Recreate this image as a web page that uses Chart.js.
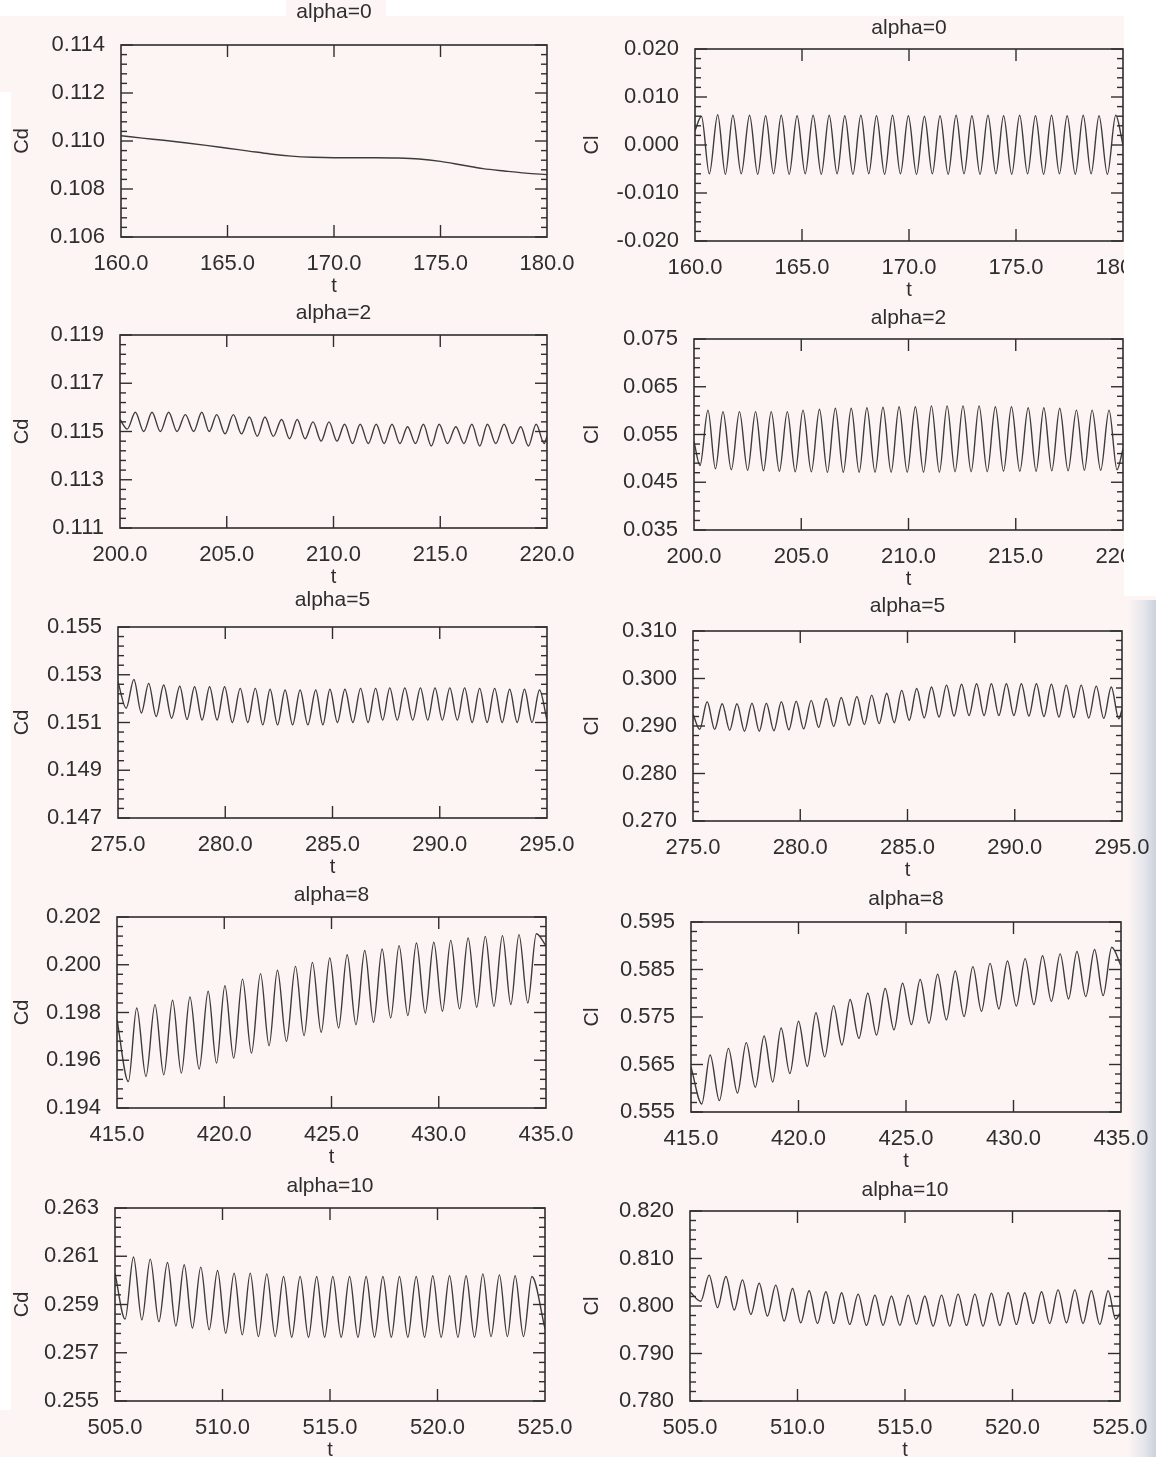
<!DOCTYPE html>
<html><head><meta charset="utf-8">
<script src="https://cdn.jsdelivr.net/npm/chart.js@4.4.1/dist/chart.umd.min.js"></script>
<style>
html,body{margin:0;padding:0;background:#fdf5f3;}
body{width:1156px;height:1457px;position:relative;overflow:hidden;}
canvas{position:absolute;z-index:2;}
.w{position:absolute;background:#ffffff;z-index:1;}
.top{z-index:3;}
</style></head><body>
<div class="w" style="left:0;top:0;width:286px;height:16px"></div>
<div class="w" style="left:386px;top:0;width:770px;height:16px"></div>
<div class="w" style="left:0;top:92px;width:11px;height:1318px"></div>
<div class="w top" style="left:1124px;top:0;width:32px;height:596px"></div>
<div class="w" style="left:1128px;top:600px;width:28px;height:857px;background:linear-gradient(to right,#fdf5f3,#e3e5ec 60%,#ccd1da)"></div>
<script>
// ---------- tick values ----------
const xTicks0 = [160, 165, 170, 175, 180];
const xTicks2 = [200, 205, 210, 215, 220];
const xTicks5 = [275, 280, 285, 290, 295];
const xTicks8 = [415, 420, 425, 430, 435];
const xTicks10 = [505, 510, 515, 520, 525];
const yTicksA0Cd = [0.106, 0.108, 0.110, 0.112, 0.114];
const yTicksA0Cl = [-0.020, -0.010, 0.000, 0.010, 0.020];
const yTicksA2Cd = [0.111, 0.113, 0.115, 0.117, 0.119];
const yTicksA2Cl = [0.035, 0.045, 0.055, 0.065, 0.075];
const yTicksA5Cd = [0.147, 0.149, 0.151, 0.153, 0.155];
const yTicksA5Cl = [0.270, 0.280, 0.290, 0.300, 0.310];
const yTicksA8Cd = [0.194, 0.196, 0.198, 0.200, 0.202];
const yTicksA8Cl = [0.555, 0.565, 0.575, 0.585, 0.595];
const yTicksA10Cd = [0.255, 0.257, 0.259, 0.261, 0.263];
const yTicksA10Cl = [0.780, 0.790, 0.800, 0.810, 0.820];

// ---------- alpha=0, Cd ----------
const a0CdT = [160,161,162,163,164,165,166,167,168,169,170,171,172,173,174,175,176,177,178,179,180];
const a0CdV = [0.11022,0.11012,0.11003,0.10993,0.10982,0.10970,0.10958,0.10946,0.10937,0.10932,0.10930,0.10930,0.10930,0.10929,0.10925,0.10915,0.10900,0.10885,0.10875,0.10866,0.10860];

// ---------- alpha=0, Cl ----------
const a0ClEdgeT = [160.0, 180.0];
const a0ClEdgeV = [0.0030, 0.0000];
const a0ClHiT = [160.30,161.06,161.77,162.55,163.30,164.03,164.77,165.52,166.27,167.00,167.75,168.48,169.23,169.97,170.72,171.45,172.20,172.94,173.69,174.42,175.17,175.91,176.66,177.39,178.14,178.88,179.66];
const a0ClHiV = [0.0060,0.0063,0.0062,0.0062,0.0061,0.0062,0.0061,0.0062,0.0062,0.0061,0.0062,0.0061,0.0062,0.0061,0.0060,0.0061,0.0062,0.0061,0.0062,0.0061,0.0062,0.0061,0.0062,0.0061,0.0062,0.0061,0.0062];
const a0ClLoT = [160.67,161.42,162.16,162.93,163.67,164.40,165.15,165.90,166.64,167.38,168.12,168.86,169.60,170.35,171.09,171.83,172.57,173.32,174.06,174.80,175.54,176.29,177.03,177.77,178.51,179.27];
const a0ClLoV = [-0.0060,-0.0061,-0.0060,-0.0061,-0.0060,-0.0061,-0.0060,-0.0061,-0.0060,-0.0061,-0.0060,-0.0061,-0.0060,-0.0061,-0.0060,-0.0061,-0.0060,-0.0061,-0.0060,-0.0061,-0.0060,-0.0061,-0.0060,-0.0061,-0.0060,-0.0061];

// ---------- alpha=2, Cd ----------
const a2CdEdgeT = [200.0, 220.0];
const a2CdEdgeV = [0.1155, 0.1148];
const a2CdHiT = [200.72,201.50,202.28,203.06,203.83,204.53,205.31,206.06,206.79,207.57,208.30,209.04,209.79,210.52,211.25,212.00,212.74,213.47,214.21,214.95,215.73,216.48,217.21,217.99,218.77,219.49];
const a2CdHiV = [0.1158,0.1158,0.1158,0.1157,0.1158,0.1157,0.1157,0.1156,0.1156,0.1155,0.1155,0.1154,0.1154,0.1153,0.1153,0.1153,0.1153,0.1152,0.1153,0.1153,0.1152,0.1153,0.1153,0.1153,0.1152,0.1153];
const a2CdLoT = [200.34,201.11,201.89,202.67,203.45,204.18,204.92,205.69,206.43,207.18,207.94,208.67,209.42,210.16,210.89,211.63,212.37,213.11,213.84,214.58,215.34,216.11,216.85,217.60,218.38,219.13,219.87];
const a2CdLoV = [0.1151,0.1150,0.1150,0.1150,0.1150,0.1150,0.1149,0.1149,0.1148,0.1148,0.1147,0.1147,0.1146,0.1146,0.1145,0.1145,0.1145,0.1145,0.1145,0.1144,0.1145,0.1145,0.1144,0.1145,0.1145,0.1144,0.1145];

// ---------- alpha=2, Cl ----------
const a2ClEdgeT = [200.0, 220.0];
const a2ClEdgeV = [0.0535, 0.0520];
const a2ClHiT = [200.65,201.35,202.12,202.87,203.60,204.35,205.08,205.85,206.59,207.33,208.06,208.81,209.56,210.32,211.07,211.80,212.54,213.29,214.05,214.80,215.58,216.31,217.05,217.83,218.56,219.35];
const a2ClHiV = [0.0601,0.0598,0.0598,0.0598,0.0598,0.0598,0.0601,0.0603,0.0605,0.0605,0.0606,0.0607,0.0608,0.0608,0.0610,0.0610,0.0610,0.0610,0.0608,0.0608,0.0606,0.0606,0.0605,0.0601,0.0601,0.0601];
const a2ClLoT = [200.28,201.00,201.74,202.50,203.24,203.98,204.72,205.47,206.22,206.96,207.70,208.44,209.19,209.94,210.70,211.44,212.17,212.92,213.67,214.43,215.19,215.95,216.68,217.44,218.20,218.96,219.72];
const a2ClLoV = [0.0485,0.0478,0.0476,0.0475,0.0474,0.0473,0.0472,0.0472,0.0471,0.0471,0.0471,0.0471,0.0471,0.0471,0.0471,0.0471,0.0472,0.0472,0.0472,0.0473,0.0473,0.0473,0.0474,0.0474,0.0475,0.0475,0.0476];

// ---------- alpha=5, Cd ----------
const a5CdEdgeT = [275.0, 295.0];
const a5CdEdgeV = [0.1527, 0.1511];
const a5CdHiT = [275.74,276.43,277.13,277.88,278.57,279.27,279.97,280.70,281.40,282.09,282.79,283.49,284.22,284.88,285.58,286.31,287.01,287.67,288.37,289.10,289.78,290.47,291.16,291.86,292.56,293.26,293.95,294.65];
const a5CdHiV = [0.15280,0.15264,0.15257,0.15252,0.15250,0.15250,0.15250,0.15243,0.15243,0.15239,0.15236,0.15236,0.15236,0.15239,0.15239,0.15243,0.15243,0.15245,0.15245,0.15245,0.15245,0.15245,0.15245,0.15243,0.15243,0.15239,0.15239,0.15236];
const a5CdLoT = [275.38,276.09,276.78,277.50,278.22,278.92,279.62,280.33,281.05,281.75,282.44,283.14,283.85,284.55,285.23,285.95,286.66,287.34,288.02,288.74,289.44,290.12,290.82,291.51,292.21,292.91,293.61,294.30];
const a5CdLoV = [0.15160,0.15140,0.15125,0.15118,0.15113,0.15110,0.15110,0.15100,0.15100,0.15090,0.15090,0.15090,0.15090,0.15090,0.15100,0.15100,0.15100,0.15110,0.15110,0.15110,0.15110,0.15110,0.15110,0.15100,0.15100,0.15100,0.15100,0.15100];

// ---------- alpha=5, Cl ----------
const a5ClEdgeT = [275.0, 295.0];
const a5ClEdgeV = [0.2925, 0.2935];
const a5ClHiT = [275.66,276.36,277.05,277.75,278.42,279.12,279.81,280.51,281.21,281.91,282.64,283.33,284.03,284.73,285.43,286.12,286.82,287.52,288.22,288.91,289.61,290.31,291.01,291.71,292.40,293.10,293.80,294.50];
const a5ClHiV = [0.2951,0.2947,0.2947,0.2948,0.2948,0.2951,0.2952,0.2954,0.2958,0.2960,0.2962,0.2965,0.2969,0.2975,0.2979,0.2982,0.2986,0.2988,0.2989,0.2989,0.2989,0.2989,0.2989,0.2988,0.2986,0.2986,0.2984,0.2982];
const a5ClLoT = [275.31,276.01,276.71,277.40,278.09,278.77,279.47,280.16,280.86,281.56,282.28,282.99,283.68,284.38,285.08,285.78,286.47,287.17,287.87,288.57,289.26,289.96,290.66,291.36,292.06,292.75,293.45,294.15,294.85];
const a5ClLoV = [0.2893,0.2893,0.2891,0.2889,0.2889,0.2890,0.2892,0.2894,0.2897,0.2899,0.2901,0.2903,0.2905,0.2907,0.2912,0.2917,0.2919,0.2921,0.2922,0.2922,0.2922,0.2922,0.2921,0.2920,0.2919,0.2918,0.2917,0.2916,0.2915];

// ---------- alpha=8, Cd ----------
const a8CdEdgeT = [415.0, 435.0];
const a8CdEdgeV = [0.1977, 0.2008];
const a8CdHiT = [415.92,416.77,417.59,418.40,419.25,420.03,420.85,421.69,422.48,423.32,424.11,424.92,425.73,426.55,427.36,428.15,428.96,429.77,430.56,431.37,432.17,432.97,433.74,434.55];
const a8CdHiV = [0.19819,0.19833,0.19851,0.19865,0.19889,0.19912,0.19940,0.19963,0.19977,0.19993,0.20010,0.20028,0.20042,0.20060,0.20066,0.20080,0.20091,0.20094,0.20102,0.20112,0.20119,0.20122,0.20126,0.20130];
const a8CdLoT = [415.53,416.35,417.18,418.00,418.83,419.64,420.44,421.27,422.09,422.90,423.72,424.52,425.33,426.14,426.96,427.76,428.56,429.37,430.17,430.97,431.77,432.57,433.36,434.15];
const a8CdLoV = [0.19511,0.19532,0.19539,0.19546,0.19563,0.19588,0.19609,0.19630,0.19661,0.19679,0.19703,0.19717,0.19735,0.19749,0.19759,0.19777,0.19787,0.19798,0.19805,0.19815,0.19822,0.19826,0.19833,0.19840];

// ---------- alpha=8, Cl ----------
const a8ClEdgeT = [415.0, 435.0];
const a8ClEdgeV = [0.5645, 0.5858];
const a8ClHiT = [415.89,416.74,417.57,418.40,419.19,420.00,420.81,421.63,422.40,423.22,424.03,424.84,425.66,426.47,427.29,428.11,428.91,429.72,430.54,431.35,432.17,432.95,433.77,434.57];
const a8ClHiV = [0.5670,0.5684,0.5696,0.5710,0.5727,0.5741,0.5759,0.5774,0.5787,0.5800,0.5810,0.5821,0.5829,0.5840,0.5847,0.5856,0.5863,0.5868,0.5873,0.5879,0.5883,0.5888,0.5892,0.5897];
const a8ClLoT = [415.50,416.32,417.16,417.99,418.80,419.60,420.41,421.22,422.02,422.81,423.63,424.44,425.25,426.07,426.88,427.70,428.51,429.32,430.13,430.95,431.76,432.56,433.36,434.17];
const a8ClLoV = [0.5567,0.5574,0.5590,0.5602,0.5613,0.5631,0.5646,0.5666,0.5691,0.5705,0.5712,0.5723,0.5734,0.5737,0.5744,0.5751,0.5762,0.5767,0.5773,0.5776,0.5783,0.5788,0.5793,0.5795];

// ---------- alpha=10, Cd ----------
const a10CdEdgeT = [505.0, 525.0];
const a10CdEdgeV = [0.2603, 0.2580];
const a10CdHiT = [505.86,506.64,507.44,508.22,508.99,509.77,510.54,511.29,512.06,512.84,513.61,514.38,515.13,515.91,516.68,517.46,518.23,519.01,519.78,520.56,521.33,522.11,522.88,523.61,524.39];
const a10CdHiV = [0.26097,0.26088,0.26074,0.26065,0.26055,0.26041,0.26030,0.26030,0.26027,0.26016,0.26016,0.26016,0.26016,0.26016,0.26016,0.26016,0.26016,0.26016,0.26019,0.26019,0.26019,0.26027,0.26023,0.26019,0.26016];
const a10CdLoT = [505.47,506.25,507.04,507.83,508.60,509.38,510.15,510.92,511.67,512.45,513.22,514.00,514.75,515.52,516.30,517.07,517.85,518.62,519.40,520.17,520.95,521.72,522.49,523.25,524.00];
const a10CdLoV = [0.25840,0.25836,0.25829,0.25811,0.25802,0.25795,0.25781,0.25774,0.25767,0.25767,0.25764,0.25764,0.25764,0.25764,0.25764,0.25764,0.25764,0.25764,0.25764,0.25764,0.25764,0.25764,0.25767,0.25767,0.25767];

// ---------- alpha=10, Cl ----------
const a10ClEdgeT = [505.0, 525.0];
const a10ClEdgeV = [0.8030, 0.7985];
const a10ClHiT = [505.89,506.67,507.44,508.22,508.99,509.77,510.54,511.32,512.05,512.82,513.60,514.37,515.15,515.92,516.70,517.47,518.25,519.02,519.80,520.57,521.35,522.12,522.90,523.67,524.45];
const a10ClHiV = [0.8065,0.8062,0.8055,0.8048,0.8044,0.8037,0.8032,0.8030,0.8028,0.8025,0.8023,0.8021,0.8023,0.8021,0.8023,0.8025,0.8025,0.8027,0.8028,0.8028,0.8030,0.8034,0.8034,0.8032,0.8032];
const a10ClLoT = [505.50,506.28,507.06,507.83,508.60,509.38,510.15,510.93,511.68,512.43,513.21,513.98,514.76,515.53,516.31,517.08,517.86,518.63,519.41,520.18,520.96,521.73,522.51,523.28,524.06,524.80];
const a10ClLoV = [0.8010,0.79965,0.79915,0.79824,0.79789,0.79683,0.79648,0.79634,0.79634,0.79613,0.79592,0.79592,0.79592,0.79613,0.79577,0.79577,0.79592,0.79577,0.79592,0.79613,0.79634,0.79634,0.79648,0.79634,0.79613,0.7972];

// ---------- build point lists (merge + sort by time) ----------
function pts(tLists, vLists) {
  const p = [];
  tLists.forEach((ta, k) => ta.forEach((t, i) => p.push({ x: t, y: vLists[k][i] })));
  p.sort((a, b) => a.x - b.x);
  return p;
}

const FONT = '"Liberation Sans", Arial, Helvetica, sans-serif';
const INK = '#2e2e2e';

const boxTicks = {
  id: 'boxTicks',
  afterDatasetsDraw(chart, args, opts) {
    const { ctx, chartArea: a, scales: { x, y } } = chart;
    const yT = opts.yTicks, xT = opts.xTicks;
    ctx.save();
    ctx.strokeStyle = INK;
    ctx.lineWidth = 1.6;
    ctx.strokeRect(a.left, a.top, a.right - a.left, a.bottom - a.top);
    ctx.lineWidth = 1.4;
    const seg = (x1, y1, x2, y2) => { ctx.beginPath(); ctx.moveTo(x1, y1); ctx.lineTo(x2, y2); ctx.stroke(); };
    xT.forEach(v => {
      const px = x.getPixelForValue(v);
      if (px <= a.left + 2 || px >= a.right - 2) return;
      seg(px, a.bottom, px, a.bottom - 12);
      seg(px, a.top, px, a.top + 12);
    });
    for (let i = 0; i < yT.length; i++) {
      const py = y.getPixelForValue(yT[i]);
      seg(a.left, py, a.left + 12, py);
      seg(a.right, py, a.right - 12, py);
      if (i < yT.length - 1) {
        for (let m = 1; m < 5; m++) {
          const v = yT[i] + (yT[i + 1] - yT[i]) * m / 5;
          const pm = y.getPixelForValue(v);
          seg(a.left, pm, a.left + 6, pm);
          seg(a.right, pm, a.right - 6, pm);
        }
      }
    }
    ctx.restore();
  }
};

const panels = [
  { title: 'alpha=0', yl: 'Cd', col: 0, l: 121, r: 547, t: 45, b: 237, tg: 33, xt: xTicks0, yt: yTicksA0Cd, data: pts([a0CdT], [a0CdV]) },
  { title: 'alpha=0', yl: 'Cl', col: 1, l: 695, r: 1123, t: 49, b: 241, tg: 21, xt: xTicks0, yt: yTicksA0Cl, data: pts([a0ClEdgeT, a0ClHiT, a0ClLoT], [a0ClEdgeV, a0ClHiV, a0ClLoV]) },
  { title: 'alpha=2', yl: 'Cd', col: 0, l: 120, r: 547, t: 335, b: 528, tg: 22, xt: xTicks2, yt: yTicksA2Cd, data: pts([a2CdEdgeT, a2CdHiT, a2CdLoT], [a2CdEdgeV, a2CdHiV, a2CdLoV]) },
  { title: 'alpha=2', yl: 'Cl', col: 1, l: 694, r: 1123, t: 339, b: 530, tg: 21, xt: xTicks2, yt: yTicksA2Cl, data: pts([a2ClEdgeT, a2ClHiT, a2ClLoT], [a2ClEdgeV, a2ClHiV, a2ClLoV]) },
  { title: 'alpha=5', yl: 'Cd', col: 0, l: 118, r: 547, t: 627, b: 818, tg: 27, xt: xTicks5, yt: yTicksA5Cd, data: pts([a5CdEdgeT, a5CdHiT, a5CdLoT], [a5CdEdgeV, a5CdHiV, a5CdLoV]) },
  { title: 'alpha=5', yl: 'Cl', col: 1, l: 693, r: 1122, t: 631, b: 821, tg: 25, xt: xTicks5, yt: yTicksA5Cl, data: pts([a5ClEdgeT, a5ClHiT, a5ClLoT], [a5ClEdgeV, a5ClHiV, a5ClLoV]) },
  { title: 'alpha=8', yl: 'Cd', col: 0, l: 117, r: 546, t: 917, b: 1108, tg: 22, xt: xTicks8, yt: yTicksA8Cd, data: pts([a8CdEdgeT, a8CdHiT, a8CdLoT], [a8CdEdgeV, a8CdHiV, a8CdLoV]) },
  { title: 'alpha=8', yl: 'Cl', col: 1, l: 691, r: 1121, t: 922, b: 1112, tg: 23, xt: xTicks8, yt: yTicksA8Cl, data: pts([a8ClEdgeT, a8ClHiT, a8ClLoT], [a8ClEdgeV, a8ClHiV, a8ClLoV]) },
  { title: 'alpha=10', yl: 'Cd', col: 0, l: 115, r: 545, t: 1208, b: 1401, tg: 22, xt: xTicks10, yt: yTicksA10Cd, data: pts([a10CdEdgeT, a10CdHiT, a10CdLoT], [a10CdEdgeV, a10CdHiV, a10CdLoV]) },
  { title: 'alpha=10', yl: 'Cl', col: 1, l: 690, r: 1120, t: 1211, b: 1401, tg: 21, xt: xTicks10, yt: yTicksA10Cl, data: pts([a10ClEdgeT, a10ClHiT, a10ClLoT], [a10ClEdgeV, a10ClHiV, a10ClLoV]) }
];

function makeChart(P) {
  const TOP = 45, XH = 61;
  const colLeft = P.col === 0 ? 0 : 575;
  const cw = P.col === 0 ? 575 : 581;
  const ch = TOP + (P.b - P.t) + XH;
  const c = document.createElement('canvas');
  c.width = cw; c.height = ch;
  c.style.left = colLeft + 'px';
  c.style.top = (P.t - TOP) + 'px';
  document.body.appendChild(c);
  const yW = P.l - colLeft;
  const padR = cw - (P.r - colLeft);
  const tickFont = { family: FONT, size: 22 };
  new Chart(c, {
    type: 'line',
    data: { datasets: [{ data: P.data, borderColor: '#3c3c3c', borderWidth: 1.4, pointRadius: 0, fill: false, cubicInterpolationMode: 'monotone' }] },
    options: {
      responsive: false, animation: false, devicePixelRatio: 1,
      layout: { padding: { left: 0, right: padR, top: 0, bottom: 0 } },
      plugins: {
        legend: { display: false }, tooltip: { enabled: false },
        title: { display: true, fullSize: false, text: P.title, color: INK, font: { family: FONT, size: 21, weight: 'normal', lineHeight: 1.2 }, padding: { top: 32.4 - P.tg, bottom: P.tg - 12.6 } },
        boxTicks: { xTicks: P.xt, yTicks: P.yt }
      },
      scales: {
        x: {
          type: 'linear', min: P.xt[0], max: P.xt[P.xt.length - 1],
          afterBuildTicks: s => { s.ticks = P.xt.map(v => ({ value: v })); },
          afterFit: s => { s.height = XH; s.paddingLeft = 0; s.paddingRight = 0; },
          grid: { display: false, drawTicks: false }, border: { display: false },
          ticks: { padding: 14, color: INK, font: tickFont, maxRotation: 0, autoSkip: false, callback: v => Number(v).toFixed(1) },
          title: { display: true, text: 't', color: INK, font: { family: FONT, size: 20, lineHeight: 1.2 }, padding: { top: 0, bottom: 0 } }
        },
        y: {
          type: 'linear', min: P.yt[0], max: P.yt[P.yt.length - 1],
          afterBuildTicks: s => { s.ticks = P.yt.map(v => ({ value: v })); },
          afterFit: s => { s.width = yW; s.paddingTop = 0; s.paddingBottom = 0; },
          grid: { display: false, drawTicks: false }, border: { display: false },
          ticks: { padding: 16, color: INK, font: tickFont, autoSkip: false, callback: v => Number(v).toFixed(3) },
          title: { display: true, text: P.yl, color: INK, font: { family: FONT, size: 20, lineHeight: 1.2 }, padding: { top: P.col === 0 ? 10 : 5, bottom: 0 } }
        }
      }
    },
    plugins: [boxTicks]
  });
}
panels.forEach(makeChart);
</script>
</body></html>
